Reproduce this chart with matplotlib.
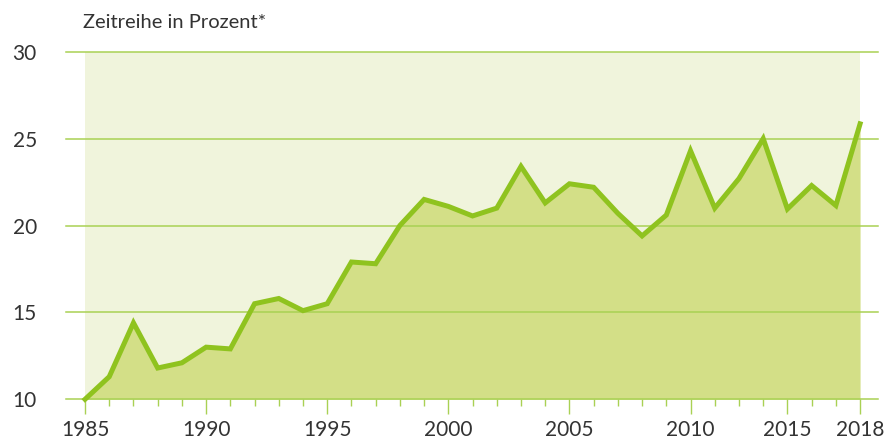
import matplotlib
matplotlib.use("Agg")
import matplotlib.pyplot as plt

# ── Data ──────────────────────────────────────────────────────────────────────
# one point per tick; the reference labels the 30th tick "2015" and the last "2018"
years = list(range(1985, 2014)) + [2015, 2016, 2017, 2018]
values = [
    10.0, 11.3, 14.4, 11.8, 12.1, 13.0, 12.9, 15.5, 15.8, 15.1,
    15.5, 17.9, 17.8, 20.0, 21.5, 21.1, 20.55, 21.0, 23.4, 21.3,
    22.4, 22.2, 20.7, 19.4, 20.6, 24.3, 21.0, 22.7, 25.0, 20.95,
    22.3, 21.15, 25.85,
]
label_years = [1985, 1990, 1995, 2000, 2005, 2010, 2015, 2018]
y_ticks = [10, 15, 20, 25, 30]
title = "Zeitreihe in Prozent*"

# ── Style ─────────────────────────────────────────────────────────────────────
BG = "#f0f4dc"
AREA = "#d3df87"
LINE = "#8fc31f"
GRID = "#a9d154"
TEXT = "#333333"

plt.rcParams["font.family"] = ["Lato", "DejaVu Sans"]

x = list(range(len(years)))
major_idx = [years.index(y) for y in label_years]

fig = plt.figure(figsize=(8.87, 4.44), dpi=100)
ax = fig.add_axes([66 / 887, 1 - 399.3 / 444, (878 - 66) / 887, (399.3 - 51.7) / 444])

ax.axvspan(x[0], x[-1], ymin=0, ymax=1, color=BG, lw=0, zorder=0)
ax.fill_between(x, values, 10, color=AREA, lw=0, zorder=1)
for yv in y_ticks:
    ax.axhline(yv, color=GRID, lw=1.1, zorder=2, clip_on=False)
ax.plot(x, values, color=LINE, lw=3.6, solid_joinstyle="miter", zorder=3, clip_on=False)

ax.set_xlim(-0.785, 32.74)
ax.set_ylim(10, 30)

for s in ax.spines.values():
    s.set_visible(False)
ax.patch.set_alpha(0)

ax.set_xticks(major_idx)
ax.set_xticklabels([str(y) for y in label_years])
ax.set_xticks(x, minor=True)
ax.tick_params(axis="x", which="major", length=10.8, width=1, color=GRID,
               labelsize=15, labelcolor=TEXT, pad=4)
ax.tick_params(axis="x", which="minor", length=5, width=1, color=GRID)

ax.set_yticks(y_ticks)
ax.set_yticklabels([str(v) for v in y_ticks])
ax.tick_params(axis="y", length=0, labelsize=15, labelcolor=TEXT, pad=21)

fig.text(83 / 887, 1 - 22.5 / 444, title, fontsize=14.5, color=TEXT,
         va="center", ha="left")

fig.savefig("out.png", dpi=100)
